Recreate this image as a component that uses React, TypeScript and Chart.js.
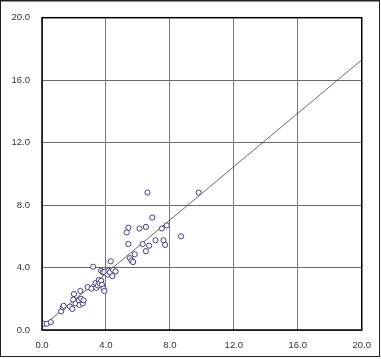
import React, { useEffect, useRef } from "react";
import { Chart, registerables } from "chart.js";

Chart.register(...registerables);

const pointsX: number[] = [
  0.1, 0.3, 0.55,
  1.2, 1.3, 1.35, 1.75, 1.9,
  1.95, 2.0, 2.1, 2.3, 2.35, 2.4, 2.45, 2.55, 2.6,
  2.85, 3.1, 3.35, 3.4, 3.5, 3.55, 3.6, 3.7, 3.75, 3.85, 3.9,
  3.2,
  3.7, 3.8, 3.9, 4.1, 4.15, 4.25, 4.4, 4.45, 4.6,
  4.3,
  5.5, 5.6, 5.7, 5.8,
  5.4, 6.3, 6.7, 6.5, 7.1, 7.6, 7.7,
  5.4, 5.3, 6.1, 6.5, 7.5, 7.8,
  6.9, 8.7,
  6.6, 9.8,
];
const pointsY: number[] = [
  0.4, 0.4, 0.5,
  1.2, 1.45, 1.55, 1.5, 1.35,
  1.95, 2.3, 1.7, 1.9, 1.6, 2.5, 2.0, 1.7, 1.9,
  2.75, 2.65, 3.0, 2.7, 2.85, 3.2, 3.0, 3.15, 2.9, 2.65, 2.5,
  4.05,
  3.8, 3.7, 3.7, 3.55, 3.8, 3.7, 3.45, 3.85, 3.75,
  4.4,
  4.6, 4.45, 4.35, 4.85,
  5.5, 5.5, 5.4, 5.05, 5.75, 5.75, 5.45,
  6.55, 6.25, 6.5, 6.6, 6.5, 6.7,
  7.2, 6.0,
  8.8, 8.8,
];
const trendX: number[] = [0, 20];
const trendY: number[] = [0.2, 17.3];
const axisMin = 0;
const axisMax = 20;
const axisStep = 4;

const frame = {
  id: "frame",
  afterDraw(chart: any) {
    const { ctx, chartArea } = chart;
    ctx.save();
    ctx.strokeStyle = "#000";
    ctx.lineWidth = 1.5;
    ctx.strokeRect(chartArea.left, chartArea.top, chartArea.right - chartArea.left, chartArea.bottom - chartArea.top);
    ctx.strokeStyle = "#222";
    ctx.lineWidth = 1;
    ctx.strokeRect(0.5, 1, 379, 355.5);
    ctx.beginPath();
    ctx.moveTo(0, 0.5);
    ctx.lineTo(380, 0.5);
    ctx.stroke();
    ctx.restore();
  },
};

export default function App() {
  const ref = useRef<HTMLCanvasElement>(null);
  useEffect(() => {
    if (!ref.current) return;
    const scatter = pointsX.map((x, i) => ({ x, y: pointsY[i] }));
    const trend = trendX.map((x, i) => ({ x, y: trendY[i] }));
    const tickFont = { family: "Liberation Sans", size: 9.5 };
    const chart = new Chart(ref.current, {
      type: "scatter",
      data: {
        datasets: [
          {
            data: scatter,
            pointRadius: 2.6,
            pointBorderWidth: 1,
            pointBorderColor: "#4a3d7c",
            pointBackgroundColor: "#ffffff",
            showLine: false,
          },
          {
            data: trend,
            showLine: true,
            pointRadius: 0,
            borderColor: "#444",
            borderWidth: 0.8,
          },
        ],
      },
      options: {
        animation: false,
        responsive: false,
        events: [],
        layout: { padding: { top: 10, right: 19, left: 0, bottom: 0 } },
        plugins: { legend: { display: false }, tooltip: { enabled: false } },
        scales: {
          x: {
            type: "linear",
            min: axisMin,
            max: axisMax,
            afterFit: (s: any) => { s.height = 29; },
            ticks: { stepSize: axisStep, padding: 10, color: "#333", font: tickFont, callback: (v: any) => Number(v).toFixed(1), maxRotation: 0 },
            grid: { color: "#7a7a7a", lineWidth: 1, drawTicks: false },
            border: { display: false },
          },
          y: {
            type: "linear",
            min: axisMin,
            max: axisMax,
            afterFit: (s: any) => { s.width = 42; },
            ticks: { stepSize: axisStep, padding: 12, color: "#333", font: tickFont, callback: (v: any) => Number(v).toFixed(1) },
            grid: { color: "#6a6a6a", lineWidth: 1, drawTicks: false },
            border: { display: false },
          },
        },
      },
      plugins: [frame],
    });
    return () => chart.destroy();
  }, []);
  return (
    <div style={{ position: "absolute", left: 0, top: 0, width: 381, height: 359, background: "#fff" }}>
      <canvas ref={ref} width={381} height={359} />
    </div>
  );
}
